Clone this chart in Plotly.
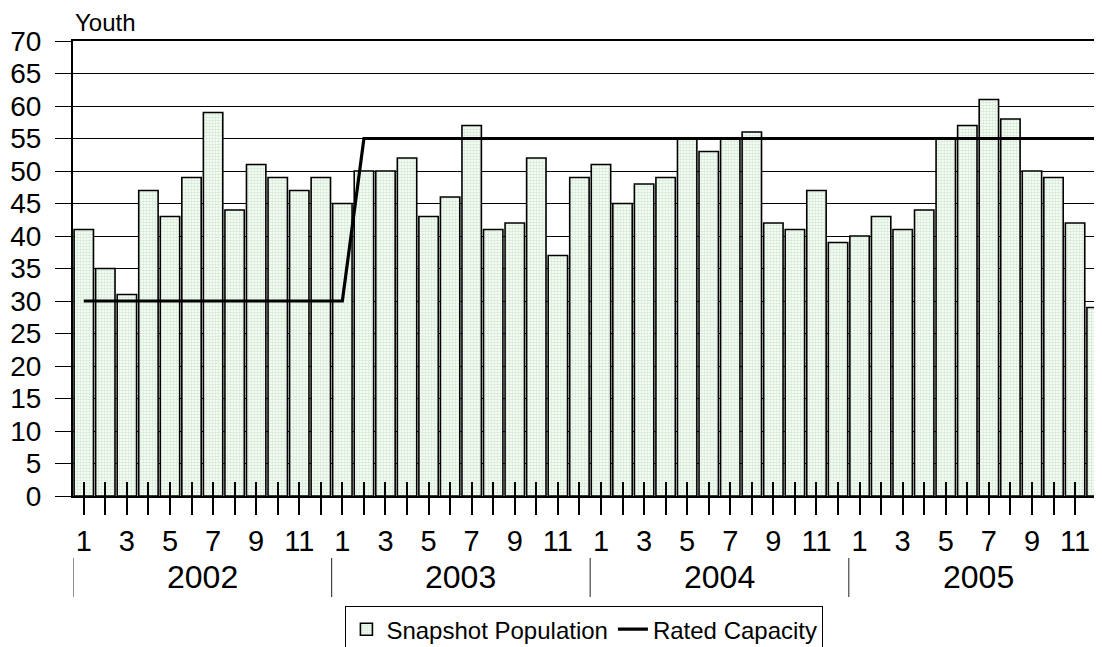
import plotly.graph_objects as go

years = ["2002", "2003", "2004", "2005"]
months = list(range(1, 13))

population = [
    41, 35, 31, 47, 43, 49, 59, 44, 51, 49, 47, 49,
    45, 50, 50, 52, 43, 46, 57, 41, 42, 52, 37, 49,
    51, 45, 48, 49, 55, 53, 55, 56, 42, 41, 47, 39,
    40, 43, 41, 44, 55, 57, 61, 58, 50, 49, 42, 29,
]
capacity = [30] * 13 + [55] * 35

n = len(population)
xs = list(range(1, n + 1))
month_of = [m for _ in years for m in months]
ticktext = [str(m) if m % 2 == 1 else "" for m in month_of]

FONT = "Arial, Liberation Sans, sans-serif"

fig = go.Figure()
fig.add_trace(go.Bar(
    x=xs, y=population, name="Snapshot Population",
    marker=dict(color="#ddefdd", line=dict(color="black", width=1.6),
                pattern=dict(shape=".", fgcolor="#a9d5a9", bgcolor="white",
                             size=3, solidity=0.55)),
))
fig.add_trace(go.Scatter(
    x=xs, y=capacity, name="Rated Capacity", mode="lines",
    line=dict(color="black", width=3.2),
))
# invisible trace to hold the overlay axis for inside tick marks
fig.add_trace(go.Scatter(x=xs, y=population, xaxis="x2", mode="none",
                         showlegend=False, hoverinfo="skip"))

xr = [0.5, 48.25]
fig.update_layout(
    width=1094, height=639,
    margin=dict(l=65, r=0, t=33, b=151, autoexpand=False),
    paper_bgcolor="white", plot_bgcolor="white",
    font=dict(family=FONT, color="black", size=28),
    bargap=0.1,
    showlegend=True,
    legend=dict(orientation="h", x=0.497, xanchor="center", y=-0.242, yanchor="top",
                bordercolor="black", borderwidth=1, font=dict(size=24),
                bgcolor="white", itemwidth=30, tracegroupgap=0),
    xaxis=dict(range=xr, tickmode="array", tickvals=xs, ticktext=ticktext,
               ticks="outside", ticklen=17, tickwidth=1.5, tickcolor="black",
               showline=True, linecolor="black", linewidth=2.2, mirror=True,
               showgrid=False, zeroline=False, tickangle=0,
               tickfont=dict(size=29), ticklabelstandoff=1),
    xaxis2=dict(range=xr, overlaying="x", anchor="y", side="bottom",
                tickmode="array", tickvals=xs, ticks="inside", ticklen=14,
                tickwidth=1.5, tickcolor="black", showticklabels=False,
                showline=False, showgrid=False, zeroline=False),
    yaxis=dict(range=[0, 70], dtick=5, tickmode="linear", tick0=0,
               ticks="outside", ticklen=16, tickwidth=1.3, tickcolor="black",
               showgrid=True, gridcolor="black", gridwidth=1.3,
               showline=True, linecolor="black", linewidth=2.2,
               zeroline=False, tickfont=dict(size=28), ticklabelstandoff=8),
)

# year labels and dividers of the second category level
for i, yr in enumerate(years):
    fig.add_annotation(x=12 * i + 6.5, y=-0.178, xref="x", yref="paper",
                       text=yr, showarrow=False, font=dict(size=32),
                       xanchor="center", yanchor="middle")
    fig.add_shape(type="line", xref="x", yref="paper",
                  x0=12 * i + 0.5, x1=12 * i + 0.5, y0=-0.136, y1=-0.222,
                  line=dict(color="#444444", width=1.2))

fig.add_annotation(x=0.0, y=1.0, xref="paper", yref="paper", yshift=19,
                   text="Youth", showarrow=False, font=dict(size=24),
                   xanchor="left", yanchor="middle")

fig.write_html("out.html")
